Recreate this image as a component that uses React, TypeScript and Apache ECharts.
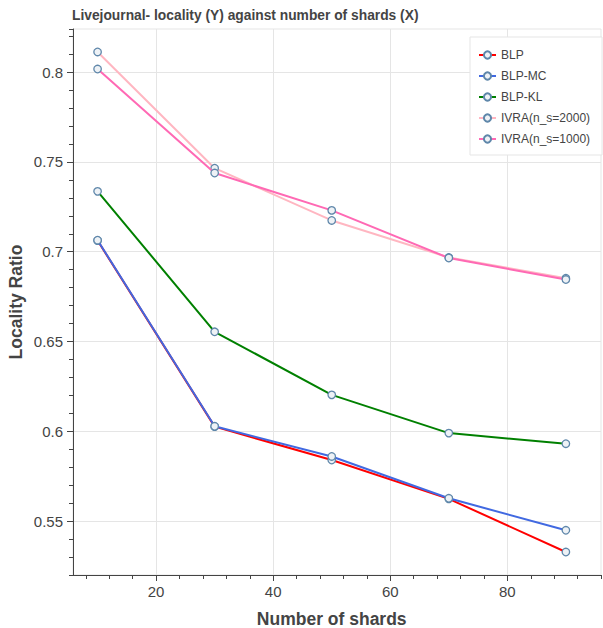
import React, { useEffect, useRef } from "react";
import * as echarts from "echarts";

const TITLE = "Livejournal- locality (Y) against number of shards (X)";
const X_NAME = "Number of shards";
const Y_NAME = "Locality Ratio";

const SHARDS = [10, 30, 50, 70, 90];
const BLP = [0.7062, 0.6026, 0.584, 0.5624, 0.5328];
const BLP_MC = [0.7064, 0.6028, 0.586, 0.5627, 0.5449];
const BLP_KL = [0.7336, 0.6554, 0.6203, 0.599, 0.5931];
const IVRA_2000 = [0.8112, 0.7465, 0.7174, 0.6968, 0.6852];
const IVRA_1000 = [0.8017, 0.7438, 0.723, 0.6965, 0.6845];

const SERIES_NAMES = ["BLP", "BLP-MC", "BLP-KL", "IVRA(n_s=2000)", "IVRA(n_s=1000)"];
const SERIES_VALUES = [BLP, BLP_MC, BLP_KL, IVRA_2000, IVRA_1000];
const SERIES_COLORS = ["#ff0000", "#4169e1", "#008000", "#ffb6c1", "#ff69b4"];

const X_MIN = 5.8;
const X_MAX = 96;
const Y_MIN = 0.52;
const Y_MAX = 0.824;

const W = 603;
const H = 628;
const PL = 73;
const PT = 29;
const PR = 2;
const PB = 53;

const FONT = "'Liberation Sans', Arial, Helvetica, sans-serif";
const TEXT = "#444444";
const GRIDC = "#e5e5e5";

export default function App() {
  const ref = useRef<HTMLDivElement>(null);
  useEffect(() => {
    document.body.style.margin = "0";
    if (!ref.current) return;
    const chart = echarts.init(ref.current, undefined, { renderer: "svg" });
    const pw = W - PL - PR;
    const ph = H - PT - PB;
    const px = (v: number) => PL + ((v - X_MIN) / (X_MAX - X_MIN)) * pw;
    const py = (v: number) => PT + ((Y_MAX - v) / (Y_MAX - Y_MIN)) * ph;

    const hiddenX = (min: number, max: number, gi: number) => ({
      type: "value", gridIndex: gi, min, max, show: false,
    });
    const hiddenY = (min: number, max: number, gi: number) => ({
      type: "value", gridIndex: gi, min, max, show: false,
    });
    const gridBase = { containLabel: false, outerBoundsMode: "none" };

    chart.setOption({
      animation: false,
      backgroundColor: "#ffffff",
      title: {
        text: TITLE,
        left: 67,
        top: 3,
        textStyle: { fontFamily: FONT, fontSize: 13.8, fontWeight: "bold", color: TEXT },
      },
      legend: {
        orient: "vertical",
        left: 470,
        top: 37,
        width: 131,
        padding: [12, 12, 10, 8],
        itemWidth: 17,
        itemHeight: 9,
        itemGap: 9,
        backgroundColor: "#ffffff",
        borderColor: GRIDC,
        borderWidth: 1,
        data: SERIES_NAMES,
        textStyle: { fontFamily: FONT, fontSize: 12, color: TEXT },
      },
      grid: [
        { ...gridBase, left: PL, top: PT, right: PR, bottom: PB, show: true, borderColor: GRIDC, borderWidth: 1, backgroundColor: "transparent" },
        { ...gridBase, left: px(8), top: PT, right: W - px(96), bottom: PB },
        { ...gridBase, left: px(20), top: PT, right: W - px(80), bottom: PB },
        { ...gridBase, left: PL, top: py(0.8), right: PR, bottom: H - py(0.55) },
      ],
      xAxis: [
        {
          type: "value", gridIndex: 0, min: X_MIN, max: X_MAX,
          axisLine: { show: true, lineStyle: { color: TEXT, width: 1 } },
          axisTick: { show: false }, axisLabel: { show: false }, splitLine: { show: false },
        },
        {
          type: "value", gridIndex: 1, min: 8, max: 96, interval: 4,
          axisLine: { show: false },
          axisTick: { show: true, length: 4, lineStyle: { color: TEXT } },
          axisLabel: { show: false }, splitLine: { show: false },
        },
        {
          type: "value", gridIndex: 2, min: 20, max: 80, interval: 20,
          axisLine: { show: false },
          axisTick: { show: true, length: 6, lineStyle: { color: TEXT } },
          axisLabel: { show: true, fontFamily: FONT, fontSize: 15, color: TEXT, margin: 9 },
          splitLine: { show: true, lineStyle: { color: GRIDC, width: 1 } },
          name: X_NAME, nameLocation: "middle", nameGap: 35,
          nameTextStyle: { fontFamily: FONT, fontSize: 17.5, fontWeight: "bold", color: TEXT },
        },
        hiddenX(X_MIN, X_MAX, 3),
      ],
      yAxis: [
        {
          type: "value", gridIndex: 0, min: Y_MIN, max: Y_MAX, interval: 0.01,
          axisLine: { show: true, lineStyle: { color: TEXT, width: 1 } },
          axisTick: { show: true, length: 4, lineStyle: { color: TEXT } },
          axisLabel: { show: false }, splitLine: { show: false },
          name: Y_NAME, nameLocation: "middle", nameGap: 48,
          nameTextStyle: { fontFamily: FONT, fontSize: 17.5, fontWeight: "bold", color: TEXT },
        },
        hiddenY(Y_MIN, Y_MAX, 1),
        hiddenY(Y_MIN, Y_MAX, 2),
        {
          type: "value", gridIndex: 3, min: 0.55, max: 0.8, interval: 0.05,
          axisLine: { show: false },
          axisTick: { show: true, length: 6, lineStyle: { color: TEXT } },
          axisLabel: {
            show: true, fontFamily: FONT, fontSize: 15, color: TEXT, margin: 10,
            formatter: (v: number) => String(parseFloat(v.toFixed(2))),
          },
          splitLine: { show: true, lineStyle: { color: GRIDC, width: 1 } },
        },
      ],
      series: SERIES_NAMES.map((name, i) => ({
        name,
        type: "line",
        xAxisIndex: 0,
        yAxisIndex: 0,
        data: SHARDS.map((x, j) => [x, SERIES_VALUES[i][j]]),
        symbol: "circle",
        symbolSize: 7.5,
        showSymbol: true,
        lineStyle: { color: SERIES_COLORS[i], width: 2 },
        itemStyle: { color: "#eef2f6", borderColor: "#5f87aa", borderWidth: 1.3 },
        emphasis: { disabled: true },
        z: 2 + i,
      })),
    });
    return () => chart.dispose();
  }, []);
  return <div ref={ref} style={{ width: W, height: H }} />;
}
